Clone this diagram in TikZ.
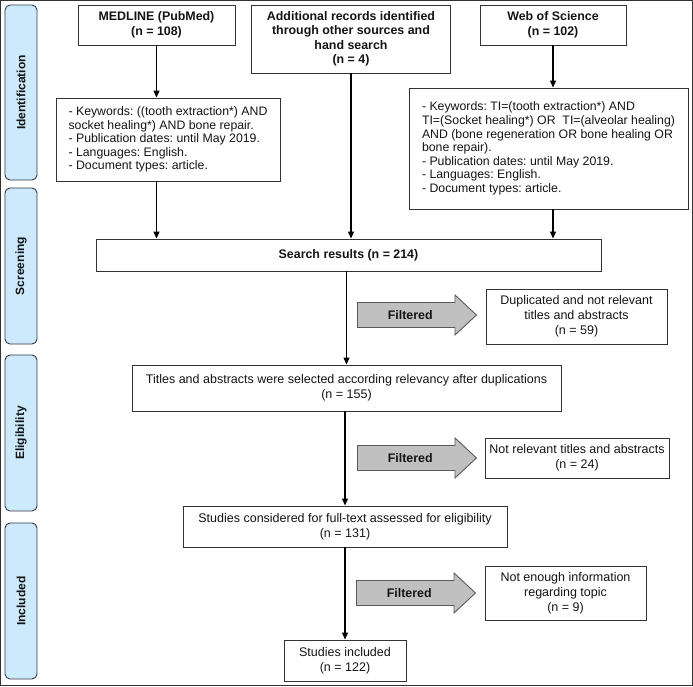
\documentclass[tikz,border=0pt]{standalone}
\usepackage{fontspec}
\setmainfont{Liberation Sans}
\frenchspacing
\usetikzlibrary{arrows.meta, shapes.arrows}
\definecolor{flowInk}{RGB}{20,20,20}
\definecolor{flowEdge}{RGB}{50,50,50}
\definecolor{stageFill}{RGB}{204,234,252}
\definecolor{stageEdge}{RGB}{50,55,65}
\definecolor{filterFill}{RGB}{192,192,192}
\definecolor{filterEdge}{RGB}{90,90,90}
\tikzset{
  % plain record box, sizes are given per node
  box/.style={
    draw=flowEdge, line width=0.9pt, align=center, inner sep=0pt,
    font=\fontsize{12.5}{15}\selectfont, text=flowInk
  },
  source/.style={box, font=\fontsize{12.4}{14.5}\selectfont\bfseries},
  % search-string boxes, left aligned
  query/.style={box, align=left, font=\fontsize{12.3}{13.6}\selectfont},
  % the blue tabs at the left edge
  stage/.style={
    draw=stageEdge, fill=stageFill, rounded corners=5pt, line width=0.9pt,
    rotate=90, minimum height=32pt, inner sep=0pt,
    font=\fontsize{12}{13}\selectfont\bfseries, text=flowInk
  },
  % grey block arrows
  filter/.style={
    single arrow, draw=filterEdge, fill=filterFill, line width=0.9pt,
    minimum height=119pt, inner xsep=0pt, inner ysep=7.5pt,
    single arrow head extend=7.5pt, single arrow tip angle=86,
    anchor=tail, font=\fontsize{12.4}{14}\selectfont\bfseries, text=flowInk
  },
  flow/.style={-{Triangle[length=7pt,width=6pt]}, draw=black, line width=1.1pt},
}
\begin{document}
\begin{tikzpicture}[x=1pt, y=-1pt]
\useasboundingbox (0,0) rectangle (693,686);
\draw[flowEdge, line width=1pt] (0.5,0.5) rectangle (692.5,685.5);

% stages
\node[stage, minimum width=175pt] (ident)  at (21,92.5) {Identification};
\node[stage, minimum width=156pt] (screen) at (21,266)  {Screening};
\node[stage, minimum width=156pt] (elig)   at (21,433)  {Eligibility};
\node[stage, minimum width=156pt] (incl)   at (21,601)  {Included};

% sources
\node[source, minimum width=157pt, minimum height=40pt] (medline) at (156.5,25)
      {MEDLINE (PubMed)\\(n = 108)};
\node[source, minimum width=199pt, minimum height=68pt] (other) at (351,39)
      {Additional records identified\\through other sources and\\hand search\\(n = 4)};
\node[source, minimum width=146pt, minimum height=40pt] (wos) at (553,25)
      {Web of Science\\(n = 102)};

% search strings
\node[query, minimum width=224pt, minimum height=83pt] (medkw) at (168,139.5)
      {- Keywords: ((tooth extraction*) AND\\
       socket healing*) AND bone repair.\\
       - Publication dates: until May 2019.\\
       - Languages: English.\\
       - Document types: article.};
\node[query, minimum width=279pt, minimum height=121pt] (woskw) at (548.5,148.5)
      {- Keywords: TI=(tooth extraction*) AND\\
       TI=(Socket healing*) OR\ \ TI=(alveolar healing)\\
       AND (bone regeneration OR bone healing OR\\
       bone repair).\\
       - Publication dates: until May 2019.\\
       - Languages: English.\\
       - Document types: article.};

% main column
\node[source, minimum width=505pt, minimum height=32pt] (search) at (348.5,255)
      {Search results (n = 214)};
\node[box, minimum width=429pt, minimum height=46pt] (titles) at (346.5,388)
      {Titles and abstracts were selected according relevancy after duplications\\(n = 155)};
\node[box, minimum width=324pt, minimum height=41pt] (fulltext) at (345,526.5)
      {Studies considered for full-text assessed for eligibility\\(n = 131)};
\node[box, minimum width=122pt, minimum height=41pt] (included) at (345,660.5)
      {Studies included\\(n = 122)};

% excluded records
\node[box, minimum width=181pt, minimum height=55pt] (dup) at (576.5,316.5)
      {Duplicated and not relevant\\titles and abstracts\\(n = 59)};
\node[box, minimum width=184pt, minimum height=40pt] (notrel) at (577,458)
      {Not relevant titles and abstracts\\(n = 24)};
\node[box, minimum width=161pt, minimum height=54pt] (notinfo) at (565.5,593)
      {Not enough information\\regarding topic\\(n = 9)};

\node[filter] (filt1) at (357,315) {Filtered};
\node[filter] (filt2) at (357,458) {Filtered};
\node[filter] (filt3) at (356,593) {Filtered};

% connectors
\draw[flow] (medline.south) -- (medline.south |- medkw.north);
\draw[flow] (medline.south |- medkw.south) -- (medline.south |- search.north);
\draw[flow] (other.south) -- (other.south |- search.north);
\draw[flow] (wos.south) -- (wos.south |- woskw.north);
\draw[flow] (wos.south |- woskw.south) -- (wos.south |- search.north);
\draw[flow] (titles.north |- search.south) -- (titles.north);
\draw[flow] (fulltext.north |- titles.south) -- (fulltext.north);
\draw[flow] (fulltext.south) -- (included.north);

\end{tikzpicture}
\end{document}
